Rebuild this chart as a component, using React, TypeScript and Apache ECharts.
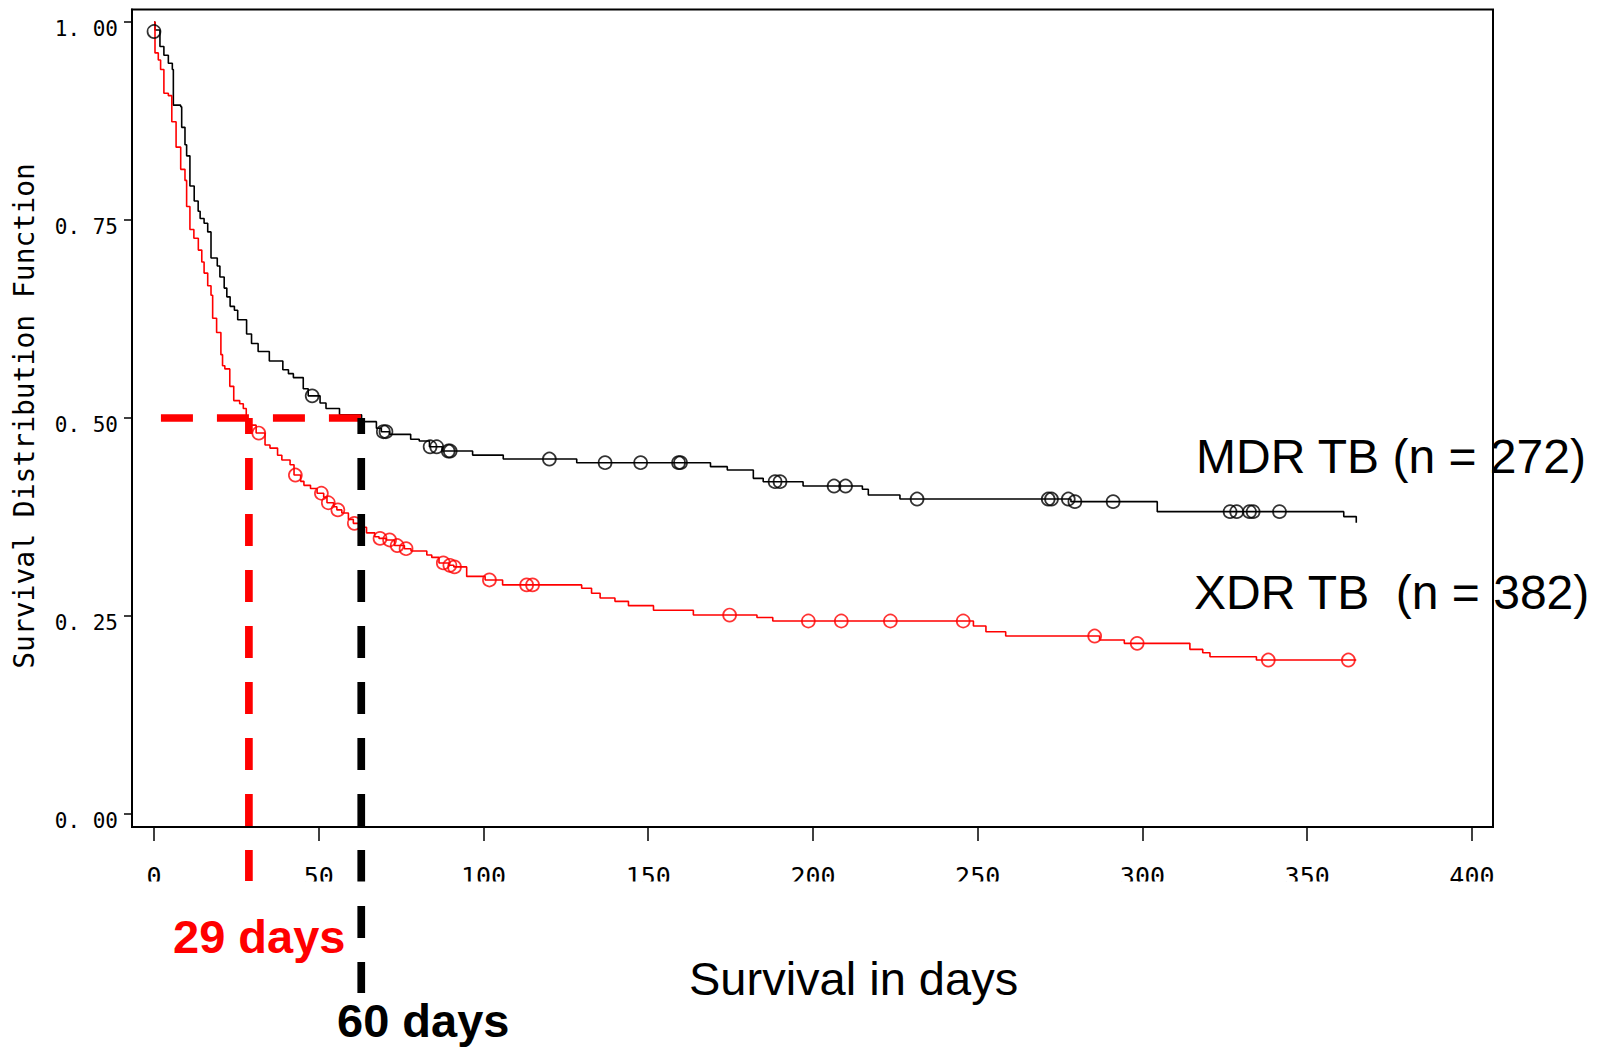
import React, { useEffect, useRef } from 'react';
import * as echarts from 'echarts';

// ---- axis ticks ----
const xTickValues = [0, 50, 100, 150, 200, 250, 300, 350, 400];
const yTickValues = [0, 0.25, 0.5, 0.75, 1];
const yTickLabels = ['0. 00', '0. 25', '0. 50', '0. 75', '1. 00'];

// ---- Kaplan-Meier steps: [day, survival after the drop] ----
const mdrSteps = [
  [0, 1.0], [0.3, 0.99], [1.8, 0.969], [3.0, 0.958], [4.35, 0.948], [5.56, 0.94], [5.87, 0.895],
  [8.1, 0.893], [8.4, 0.867], [9.4, 0.845], [9.9, 0.831], [10.9, 0.793], [12.2, 0.774],
  [13.4, 0.761], [14.0, 0.752], [15.2, 0.746], [16.3, 0.735], [17.3, 0.702], [19.2, 0.692],
  [20.0, 0.678], [21.3, 0.664], [22.1, 0.653], [23.1, 0.641], [24.4, 0.636], [25.4, 0.624],
  [28.1, 0.606], [29.6, 0.594], [31.6, 0.584], [35.0, 0.572], [39.1, 0.561], [40.8, 0.556],
  [42.3, 0.551], [45.3, 0.537], [46.8, 0.528], [50.4, 0.519], [52.2, 0.512], [56.3, 0.504],
  [63.0, 0.4954], [67.5, 0.487], [69.0, 0.4827], [71.5, 0.4794], [77.9, 0.4731], [80.5, 0.471],
  [83.6, 0.4637], [87.5, 0.4583], [96.7, 0.4532], [106.0, 0.4482], [128.3, 0.4436],
  [168.9, 0.4386], [174.0, 0.4343], [181.9, 0.4238], [184.9, 0.4196], [197.0, 0.4141],
  [215.0, 0.41], [216.8, 0.4027], [226.4, 0.3977], [278.3, 0.3944], [304.5, 0.3818],
  [361.1, 0.3755], [364.9, 0.3678],
];

const xdrSteps = [
  [0, 1.0], [0.3, 0.961], [1.3, 0.952], [2.0, 0.94], [3.0, 0.91], [4.35, 0.907], [5.4, 0.874],
  [6.7, 0.842], [8.1, 0.814], [9.4, 0.8], [9.9, 0.767], [10.9, 0.738], [12.1, 0.727],
  [13.45, 0.712], [14.5, 0.697], [15.2, 0.683], [16.3, 0.667], [17.3, 0.655], [17.8, 0.626],
  [19.0, 0.608], [20.3, 0.58], [20.8, 0.566], [21.5, 0.562], [23.0, 0.54], [24.2, 0.522],
  [26.0, 0.518], [27.1, 0.512], [28.0, 0.497], [29.5, 0.491], [31.0, 0.481], [33.7, 0.466],
  [35.2, 0.462], [37.5, 0.453], [38.8, 0.447], [41.3, 0.441], [42.5, 0.428], [44.5, 0.42],
  [45.5, 0.415], [47.5, 0.411], [49.5, 0.405], [51.5, 0.4], [52.5, 0.393], [54.5, 0.388],
  [55.5, 0.384], [57.0, 0.38], [59.0, 0.372], [60.5, 0.367], [62.5, 0.362], [64.5, 0.355],
  [67.0, 0.35], [68.3, 0.348], [70.5, 0.346], [73.0, 0.339], [76.0, 0.335], [78.0, 0.332],
  [82.8, 0.327], [84.3, 0.324], [86.5, 0.317], [89.5, 0.314], [91.0, 0.312], [94.9, 0.3],
  [100.5, 0.2955], [105.8, 0.2893], [129.8, 0.2851], [132.8, 0.2788], [135.4, 0.2727],
  [139.9, 0.2685], [144.0, 0.2631], [151.6, 0.2572], [163.7, 0.2512], [183.0, 0.2481],
  [187.8, 0.2437], [248.7, 0.2374], [252.5, 0.2302], [258.5, 0.2247], [287.0, 0.2197],
  [294.5, 0.2155], [314.4, 0.2079], [318.3, 0.2037], [320.5, 0.1986], [334.6, 0.1944],
  [364.9, 0.1944],
];

// ---- censored observations: [day, survival] ----
const mdrCensored = [
  [0, 0.988], [48.0, 0.528], [69.6, 0.4827], [70.4, 0.4827], [83.8, 0.4637], [85.8, 0.4637],
  [89.3, 0.4583], [89.9, 0.4583], [120.0, 0.4482], [136.9, 0.4436], [147.7, 0.4436],
  [159.2, 0.4436], [159.8, 0.4436], [188.5, 0.4196], [190.0, 0.4196], [206.4, 0.4141],
  [209.9, 0.4141], [231.6, 0.3977], [271.4, 0.3977], [272.4, 0.3977], [277.5, 0.3977],
  [279.5, 0.3944], [291.1, 0.3944], [326.6, 0.3818], [328.6, 0.3818], [332.5, 0.3818],
  [333.6, 0.3818], [341.6, 0.3818],
];

const xdrCensored = [
  [31.8, 0.481], [42.9, 0.428], [50.8, 0.405], [52.9, 0.393], [55.8, 0.384], [60.8, 0.367],
  [68.6, 0.348], [71.5, 0.346], [73.8, 0.339], [76.5, 0.335], [87.8, 0.317], [89.8, 0.314],
  [91.2, 0.312], [101.8, 0.2955], [113.1, 0.2893], [114.9, 0.2893], [174.7, 0.2512],
  [198.6, 0.2437], [208.6, 0.2437], [223.5, 0.2437], [245.6, 0.2437], [285.5, 0.2247],
  [298.4, 0.2155], [338.2, 0.1944], [362.5, 0.1944],
];

// ---- median guide lines ----
const medianLevel = 0.5;
const xdrMedianDay = 28.8;
const mdrMedianDay = 62.9;
const guideStartDay = 2.1;
const xdrGuideBottom = -0.0846;
const mdrGuideBottom = -0.226;

const RED = '#ff0000';
const BLACK = '#000000';

export default function App() {
  const ref = useRef<HTMLDivElement>(null);

  useEffect(() => {
    if (!ref.current) return;
    const chart = echarts.init(ref.current, null, { renderer: 'svg' });

    const guide = (data: number[][], color: string, offset: number) => ({
      type: 'line',
      data,
      clip: false,
      symbol: 'none',
      silent: true,
      z: 6,
      lineStyle: { color, width: 7.7, type: [32, 24], dashOffset: offset, cap: 'butt' },
    });

    chart.setOption({
      animation: false,
      backgroundColor: '#ffffff',
      grid: {
        left: 132,
        right: 106,
        top: 9.5,
        bottom: 220,
        show: true,
        borderColor: BLACK,
        borderWidth: 2,
        containLabel: false,
        outerBoundsMode: 'none',
      },
      xAxis: {
        type: 'value',
        min: -6.68,
        max: 406.4,
        splitLine: { show: false },
        axisLine: { show: true, onZero: false, lineStyle: { color: BLACK, width: 2 } },
        axisTick: {
          show: true,
          length: 14,
          customValues: xTickValues,
          lineStyle: { color: BLACK, width: 1.5 },
        },
        axisLabel: {
          customValues: xTickValues,
          margin: 37,
          color: BLACK,
          fontFamily: 'DejaVu Sans Mono',
          fontSize: 25,
          verticalAlign: 'top',
        },
      },
      yAxis: {
        type: 'value',
        min: -0.0164,
        max: 1.0158,
        splitLine: { show: false },
        axisLine: { show: true, onZero: false, lineStyle: { color: BLACK, width: 2 } },
        axisTick: {
          show: true,
          length: 8,
          customValues: yTickValues,
          lineStyle: { color: BLACK, width: 1.5 },
        },
        axisLabel: {
          customValues: yTickValues,
          margin: 14,
          color: BLACK,
          fontFamily: 'DejaVu Sans Mono',
          fontSize: 21,
          lineHeight: 14,
          verticalAlign: 'top',
          formatter: (v: number) => {
            const i = yTickValues.findIndex((t) => Math.abs(t - v) < 1e-6);
            return i >= 0 ? yTickLabels[i] : '';
          },
        },
      },
      series: [
        {
          type: 'line',
          name: 'MDR TB',
          step: 'end',
          data: mdrSteps,
          symbol: 'none',
          silent: true,
          z: 3,
          lineStyle: { color: BLACK, width: 1.6 },
        },
        {
          type: 'line',
          name: 'XDR TB',
          step: 'end',
          data: xdrSteps,
          symbol: 'none',
          silent: true,
          z: 3,
          lineStyle: { color: RED, width: 1.6 },
        },
        {
          type: 'scatter',
          data: mdrCensored,
          symbol: 'circle',
          symbolSize: 13,
          silent: true,
          z: 4,
          itemStyle: { color: 'rgba(0,0,0,0)', borderColor: BLACK, borderWidth: 1.7 },
        },
        {
          type: 'scatter',
          data: xdrCensored,
          symbol: 'circle',
          symbolSize: 13,
          silent: true,
          z: 4,
          itemStyle: { color: 'rgba(0,0,0,0)', borderColor: RED, borderWidth: 1.7 },
        },
        guide([[guideStartDay, medianLevel], [mdrMedianDay, medianLevel]], RED, 0),
        guide([[xdrMedianDay, medianLevel], [xdrMedianDay, xdrGuideBottom]], RED, 16),
        guide([[mdrMedianDay, medianLevel], [mdrMedianDay, mdrGuideBottom]], BLACK, 16),
      ],
      graphic: [
        {
          type: 'rect',
          z: 50,
          silent: true,
          shape: { x: 134, y: 881.5, width: 1400, height: 22 },
          style: { fill: '#ffffff' },
        },
        {
          type: 'text',
          z: 60,
          x: 24,
          y: 416,
          rotation: Math.PI / 2,
          style: {
            text: 'Survival Distribution Function',
            font: '28px "DejaVu Sans Mono"',
            fill: BLACK,
            align: 'center',
            verticalAlign: 'middle',
          },
        },
        {
          type: 'text',
          z: 60,
          x: 173,
          y: 936,
          style: {
            text: '29 days',
            font: 'bold 47px "Liberation Sans", Arial, sans-serif',
            fill: RED,
            align: 'left',
            verticalAlign: 'middle',
          },
        },
        {
          type: 'text',
          z: 60,
          x: 337,
          y: 1020,
          style: {
            text: '60 days',
            font: 'bold 47px "Liberation Sans", Arial, sans-serif',
            fill: BLACK,
            align: 'left',
            verticalAlign: 'middle',
          },
        },
        {
          type: 'text',
          z: 60,
          x: 689,
          y: 978,
          style: {
            text: 'Survival in days',
            font: '47px "Liberation Sans", Arial, sans-serif',
            fill: BLACK,
            align: 'left',
            verticalAlign: 'middle',
          },
        },
        {
          type: 'text',
          z: 60,
          x: 1196,
          y: 456,
          style: {
            text: 'MDR TB (n = 272)',
            font: '48px "Liberation Sans", Arial, sans-serif',
            fill: BLACK,
            align: 'left',
            verticalAlign: 'middle',
          },
        },
        {
          type: 'text',
          z: 60,
          x: 1194,
          y: 592,
          style: {
            text: 'XDR TB  (n = 382)',
            font: '48px "Liberation Sans", Arial, sans-serif',
            fill: BLACK,
            align: 'left',
            verticalAlign: 'middle',
          },
        },
      ],
    });

    return () => chart.dispose();
  }, []);

  return (
    <div
      ref={ref}
      style={{ position: 'fixed', left: 0, top: 0, width: 1599, height: 1047, background: '#fff' }}
    />
  );
}
